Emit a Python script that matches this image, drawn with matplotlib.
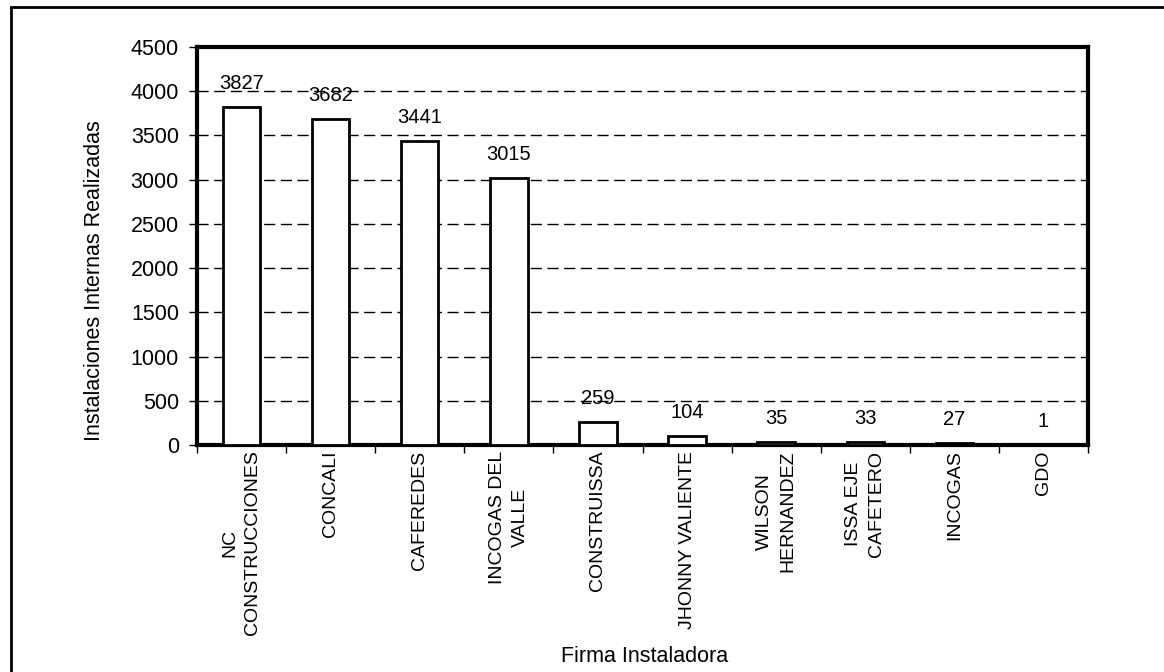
import matplotlib
matplotlib.use("Agg")
import matplotlib.pyplot as plt
from matplotlib.lines import Line2D
import numpy as np

plt.rcParams['font.family'] = ['Liberation Sans', 'DejaVu Sans']

categories = ["NC\nCONSTRUCCIONES", "CONCALI", "CAFEREDES", "INCOGAS DEL\nVALLE",
              "CONSTRUISSA", "JHONNY VALIENTE", "WILSON\nHERNANDEZ",
              "ISSA EJE\nCAFETERO", "INCOGAS", "GDO"]
values = [3827, 3682, 3441, 3015, 259, 104, 35, 33, 27, 1]
yticks = [0, 500, 1000, 1500, 2000, 2500, 3000, 3500, 4000, 4500]

W, H = 1164, 672
fig = plt.figure(figsize=(W / 100, H / 100), dpi=100)
ax = fig.add_axes([197 / W, 1 - 445 / H, (1088 - 197) / W, (445 - 47) / H])

x = np.arange(len(categories))
ax.bar(x, values, width=0.42, color='white', edgecolor='black', linewidth=2, zorder=3)

ax.set_xlim(-0.5, len(categories) - 0.5)
ax.set_ylim(0, 4500)
ax.set_yticks(yticks)
ax.set_yticklabels([str(v) for v in yticks], fontsize=15.5)
ax.yaxis.grid(True, color='black', linestyle=(0, (8, 4)), linewidth=1)
ax.set_axisbelow(True)

# boundary ticks (major) and labels at centers (minor)
ax.set_xticks(np.arange(len(categories) + 1) - 0.5)
ax.set_xticklabels([])
ax.set_xticks(x, minor=True)
ax.set_xticklabels(categories, minor=True, rotation=90, fontsize=14,
                   ha='center', va='top', multialignment='center',
                   linespacing=1.45)
ax.tick_params(axis='x', which='minor', length=0, pad=4)
ax.tick_params(axis='x', which='major', length=6, width=1, direction='out')
ax.tick_params(axis='y', length=6, width=1, direction='out', pad=7)

for s in ax.spines.values():
    s.set_linewidth(3)

for xi, v in zip(x, values):
    ax.annotate(str(v), (xi, v), xytext=(0, 10), textcoords='offset points',
                ha='center', va='bottom', fontsize=14.5)

fig.text(95 / W, 1 - 281 / H, "Instalaciones Internas Realizadas", rotation=90,
         ha='center', va='center', fontsize=15.5)
fig.text(645 / W, 1 - 657 / H, "Firma Instaladora", ha='center', va='center', fontsize=15.5)

# scanned page frame (left and top edges)
fig.add_artist(Line2D([11 / W, 11 / W], [0, 1 - 8 / H], transform=fig.transFigure,
                      color='black', linewidth=2))
fig.add_artist(Line2D([11 / W, 1], [1 - 7 / H, 1 - 7 / H], transform=fig.transFigure,
                      color='black', linewidth=2))

fig.savefig("out.png", dpi=100)
